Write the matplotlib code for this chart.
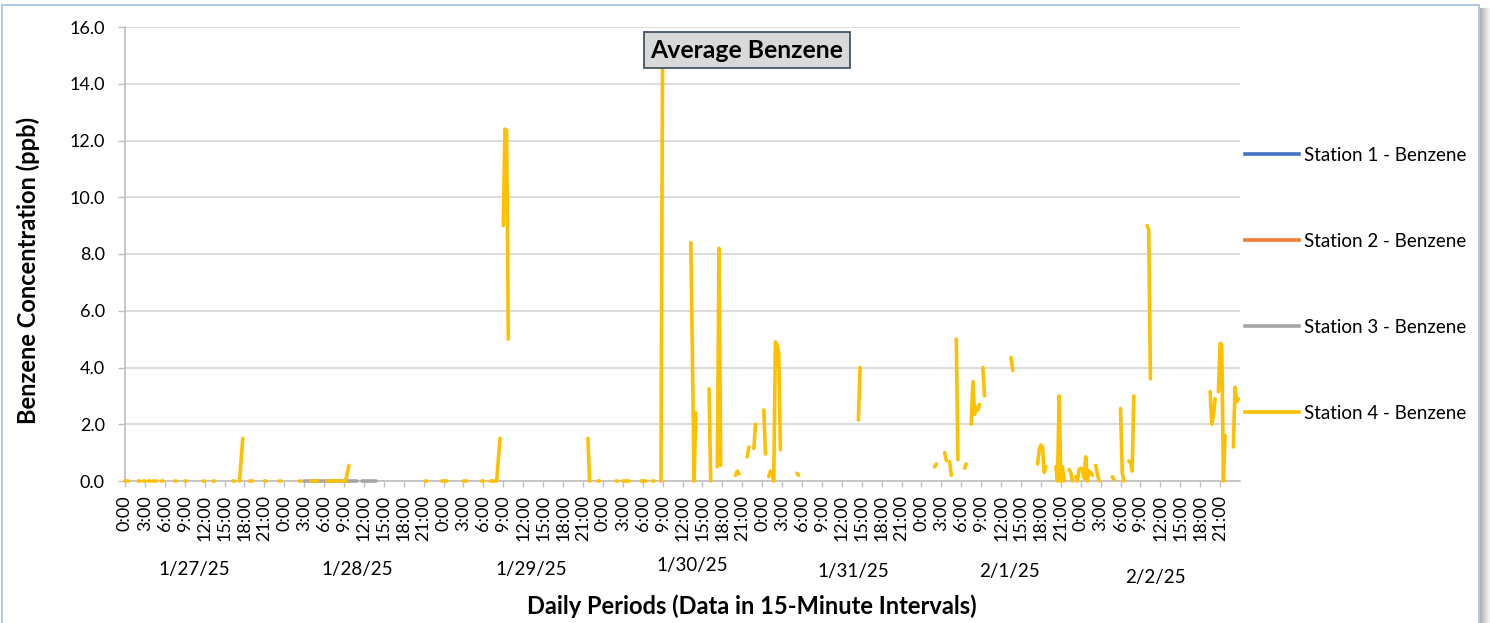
import numpy as np
import matplotlib.pyplot as plt
from matplotlib.patches import Rectangle
from matplotlib.lines import Line2D

plt.rcParams['font.family'] = ['Lato', 'DejaVu Sans']

# ------------------------------------------------------------
# Data (15-minute index from 1/27/25 0:00, 96 points per day)
# ------------------------------------------------------------
n_points = 672
hour_labels = ["0:00", "3:00", "6:00", "9:00", "12:00", "15:00", "18:00", "21:00"]
day_labels = ["1/27/25", "1/28/25", "1/29/25", "1/30/25", "1/31/25", "2/1/25", "2/2/25"]
series_names = ["Station 1 - Benzene", "Station 2 - Benzene",
                "Station 3 - Benzene", "Station 4 - Benzene"]
series_colors = ["#4472c4", "#ed7d31", "#a5a5a5", "#ffc000"]

# (start index, values) - gaps between segments are missing data
station1_segments = []
station2_segments = []
station3_segments = [
    (108, [0.0, 0.0, 0.0, 0.0, 0.0, 0.0, 0.0, 0.0, 0.0, 0.0, 0.0,
           0.0, 0.0, 0.0, 0.0, 0.0, 0.0, 0.0, 0.0, 0.0, 0.0, 0.0,
           0.0, 0.0, 0.0, 0.0, 0.0, 0.0, 0.0, 0.0, 0.0, 0.0, 0.0]),
    (143, [0.0, 0.0, 0.0, 0.0, 0.0, 0.0, 0.0, 0.0, 0.0]),
]
station4_segments = [
    (0, [0.0, 0.0, 0.0]),
    (8, [0.0, 0.0]),
    (11, [0.0, 0.0]),
    (14, [0.0, 0.0]),
    (17, [0.0, 0.0, 0.0]),
    (22, [0.0, 0.0]),
    (30, [0.0, 0.0]),
    (36, [0.0, 0.0]),
    (47, [0.0, 0.0]),
    (53, [0.0, 0.0]),
    (65, [0.0, 0.0]),
    (69, [0.0, 0.75, 1.5]),
    (75, [0.0, 0.0, 0.0]),
    (84, [0.0, 0.0]),
    (93, [0.0, 0.0]),
    (105, [0.0, 0.0]),
    (112, [0.0, 0.0, 0.0, 0.0, 0.0]),
    (122, [0.0, 0.0, 0.0, 0.0, 0.0, 0.0, 0.0, 0.0]),
    (131, [0.0, 0.0, 0.0, 0.3, 0.55]),
    (181, [0.0, 0.0]),
    (191, [0.0, 0.0, 0.0, 0.0]),
    (204, [0.0, 0.0, 0.0]),
    (215, [0.0, 0.0]),
    (220, [0.0, 0.0, 0.0, 0.0, 0.0, 0.75, 1.5]),
    (228, [9.0, 12.4, 12.35, 5.0]),
    (279, [1.5, 0.0]),
    (285, [0.0, 0.0]),
    (296, [0.0, 0.0]),
    (300, [0.0, 0.0, 0.0, 0.0, 0.0]),
    (311, [0.0, 0.0, 0.0, 0.0]),
    (318, [0.0, 0.0]),
    (323, [0.0, 15.3]),
    (341, [8.4, 4.25, 0.0, 2.4]),
    (352, [3.25, 0.0]),
    (357, [0.5, 8.2, 0.55]),
    (368, [0.2, 0.35, 0.25]),
    (375, [0.85, 1.2]),
    (379, [1.15, 2.0]),
    (385, [2.5, 0.95]),
    (388, [0.15, 0.35, 0.3, 0.0, 4.9, 4.8, 4.5, 1.1]),
    (405, [0.27, 0.2]),
    (442, [2.15, 4.0]),
    (488, [0.5, 0.6]),
    (494, [1.0, 0.72]),
    (497, [0.68, 0.2]),
    (501, [5.0, 0.75]),
    (506, [0.45, 0.6]),
    (510, [2.0, 3.5, 2.35, 2.6, 2.5, 2.7]),
    (517, [4.0, 3.0]),
    (534, [4.35, 3.9]),
    (550, [0.6, 1.1, 1.27, 1.2, 0.3, 0.5]),
    (561, [0.5, 0.0, 3.0, 0.0, 0.5, 0.0]),
    (569, [0.4, 0.3, 0.0]),
    (573, [0.15, 0.0, 0.4, 0.45, 0.4, 0.1, 0.85, 0.0, 0.35, 0.3, 0.2]),
    (585, [0.55, 0.28, 0.0]),
    (595, [0.15, 0.05]),
    (600, [2.55, 0.3, 0.0]),
    (605, [0.7, 0.65, 0.35, 3.0]),
    (616, [9.0, 8.85, 3.6]),
    (654, [3.15, 2.0, 2.3, 2.9]),
    (659, [3.15, 4.85, 4.8, 0.0, 1.6]),
    (668, [1.2, 3.3, 2.8, 2.9]),
]

# day label nudges (in 15-min steps) and vertical positions (px from top)
day_label_shift = [-6, -4, 5, 6, 7, 5, -3]
day_label_y = [570, 570, 570, 566, 571, 571, 577]


def build_series(segments):
    y = np.full(n_points, np.nan)
    for start, vals in segments:
        y[start:start + len(vals)] = vals
    return y


W, H = 1490, 623
fig = plt.figure(figsize=(W / 100, H / 100), dpi=100)
fig.patch.set_facecolor("white")

# chart border + soft shadow on the right
fig.patches.append(Rectangle((2 / W, -0.05), 1476.5 / W, 1.05 - 4.5 / H,
                             transform=fig.transFigure, fill=False,
                             edgecolor="#9fc0e8", lw=1.2, zorder=0))
sh = fig.add_axes([1480 / W, 0, 10 / W, 1 - 8 / H])
sh.imshow(np.linspace(0.68, 0.97, 20)[None, :], cmap="gray", vmin=0, vmax=1,
          aspect="auto")
sh.axis("off")

ax = fig.add_axes([125 / W, 1 - 481 / H, (1240 - 125) / W, (481 - 27) / H])

x = np.arange(n_points)
all_segments = [station1_segments, station2_segments,
                station3_segments, station4_segments]
for segs, name, col in zip(all_segments, series_names, series_colors):
    ax.plot(x, build_series(segs), color=col, lw=2.6, label=name,
            solid_capstyle="round", solid_joinstyle="round",
            clip_on=False, zorder=3)

ax.set_xlim(0, n_points)
ax.set_ylim(0, 16)
ax.set_yticks(np.arange(0, 16.1, 2))
ax.set_yticklabels([f"{v:.1f}" for v in np.arange(0, 16.1, 2)])
ax.set_xticks(np.arange(0, n_points, 12))
ax.set_xticklabels(hour_labels * len(day_labels), rotation=90)

ax.yaxis.grid(True, color="#d9d9d9", lw=1.3)
ax.set_axisbelow(True)
for s in ["top", "right"]:
    ax.spines[s].set_visible(False)
for s in ["left", "bottom"]:
    ax.spines[s].set_color("#bfbfbf")
    ax.spines[s].set_linewidth(1.2)
ax.tick_params(axis="y", length=5, width=1, color="#bfbfbf", pad=9.4,
               labelsize=13)
ax.tick_params(axis="x", length=4.3, width=1, color="#bfbfbf", pad=5.8,
               labelsize=13)

for i, lab in enumerate(day_labels):
    ax.text(i * 96 + 48 + day_label_shift[i], (481 - day_label_y[i]) / 454, lab,
            transform=ax.get_xaxis_transform(), ha="center", va="center",
            fontsize=13.5)

fig.text(747 / W, 1 - 50 / H, "Average Benzene", ha="center", va="center",
         fontsize=17.8, fontweight="bold", zorder=10,
         bbox=dict(boxstyle="square,pad=0.27", fc="#d9d9d9", ec="#44546a", lw=1.3))
fig.text(28 / W, 1 - 270 / H, "Benzene Concentration (ppb)", rotation=90,
         ha="center", va="center", fontsize=17, fontweight="bold")
fig.text(752 / W, 1 - 606 / H, "Daily Periods (Data in 15-Minute Intervals)",
         ha="center", va="center", fontsize=17, fontweight="bold")

leg_handles = [Line2D([], [], color=c, lw=2.6) for c in series_colors]
fig.legend(leg_handles, series_names, loc="upper left",
           bbox_to_anchor=(1245 / W, 1 - 147 / H), frameon=False,
           handlelength=2.9, handletextpad=0.25, labelspacing=3.68,
           borderpad=0, borderaxespad=0, fontsize=13.5)

fig.savefig("out.png", dpi=100)
